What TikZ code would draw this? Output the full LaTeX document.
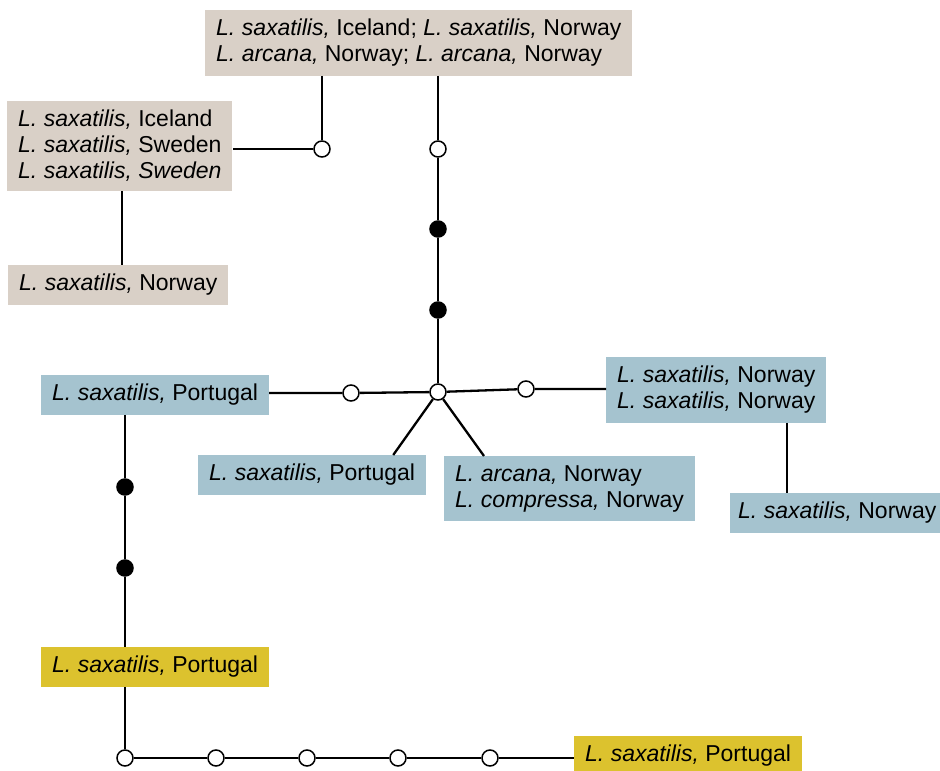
\documentclass[tikz,border=0pt]{standalone}
\usepackage{fontspec}
\setmainfont{Liberation Sans}
\definecolor{beigebox}{HTML}{D9D0C7}
\definecolor{bluebox}{HTML}{A5C3CF}
\definecolor{yellowbox}{HTML}{DCC22E}
\tikzset{
  hap/.style={anchor=north west, align=left, inner xsep=11pt, inner ysep=9pt,
    font=\fontsize{23}{26}\selectfont},
  open/.style={circle, draw, line width=1.5pt, fill=white, inner sep=0pt, minimum size=16pt},
  full/.style={circle, draw, line width=1.5pt, fill=black, inner sep=0pt, minimum size=16pt},
  link/.style={line width=2.3pt}
}
\newcommand{\spc}[1]{\textit{L. #1,}}
\begin{document}
\begin{tikzpicture}[x=1pt,y=-1pt]
\useasboundingbox (0,0) rectangle (940,771);
% haplotype boxes
\node[hap, fill=beigebox] (top) at (205,10) {\spc{saxatilis} Iceland; \spc{saxatilis} Norway\\\spc{arcana} Norway; \spc{arcana} Norway};
\node[hap, fill=beigebox] (ice) at (7,101) {\spc{saxatilis} Iceland\\\spc{saxatilis} Sweden\\\spc{saxatilis} \textit{Sweden}};
\node[hap, fill=beigebox] (nor1) at (8,265) {\spc{saxatilis} Norway};
\node[hap, fill=bluebox] (por1) at (41,375) {\spc{saxatilis} Portugal};
\node[hap, fill=bluebox] (por2) at (198,455) {\spc{saxatilis} Portugal};
\node[hap, fill=bluebox] (arc) at (444,456) {\spc{arcana} Norway\\\spc{compressa} Norway};
\node[hap, fill=bluebox] (nor2) at (606,357) {\spc{saxatilis} Norway\\\spc{saxatilis} Norway};
\node[hap, fill=bluebox, inner xsep=8pt] (nor3) at (730,493) {\spc{saxatilis} Norway};
\node[hap, fill=yellowbox] (por3) at (41,647) {\spc{saxatilis} Portugal};
\node[hap, fill=yellowbox] (por4) at (574,736) {\spc{saxatilis} Portugal};
% median vectors and missing haplotypes
\node[open] (ctr) at (438,392) {};
\node[open] (a1) at (322,149) {};
\node[open] (b1) at (438,149) {};
\node[full] (b2) at (438,229) {};
\node[full] (b3) at (438,310) {};
\node[open] (w1) at (351,393) {};
\node[open] (e1) at (526,389) {};
\node[full] (s1) at (125,487) {};
\node[full] (s2) at (125,568) {};
\foreach \n/\x in {h1/125,h2/216,h3/307,h4/398,h5/490}{
    \node[open] (\n) at (\x,758) {};
}
% connectors
\draw[link] (top.south -| a1) -- (a1) -- (a1 -| ice.east);
\draw[link] (top.south -| b1) -- (b1) -- (b2) -- (b3) -- (ctr);
\draw[link] (ice.south -| 122,0) -- (nor1.north -| 122,0);
\draw[link] (ctr) -- (w1) -- (w1 -| por1.east);
\draw[link] (ctr) -- (e1) -- (e1 -| nor2.west);
\draw[link] (ctr) -- ([xshift=-33pt]por2.north east);
\draw[link] (ctr) -- ([xshift=40pt]arc.north west);
\draw[link] (nor2.south -| 787,0) -- (nor3.north -| 787,0);
\draw[link] (por1.south -| s1) -- (s1) -- (s2) -- (por3.north -| s2);
\draw[link] (por3.south -| h1) -- (h1) -- (h2) -- (h3) -- (h4) -- (h5) -- (h5 -| por4.west);
\end{tikzpicture}
\end{document}
